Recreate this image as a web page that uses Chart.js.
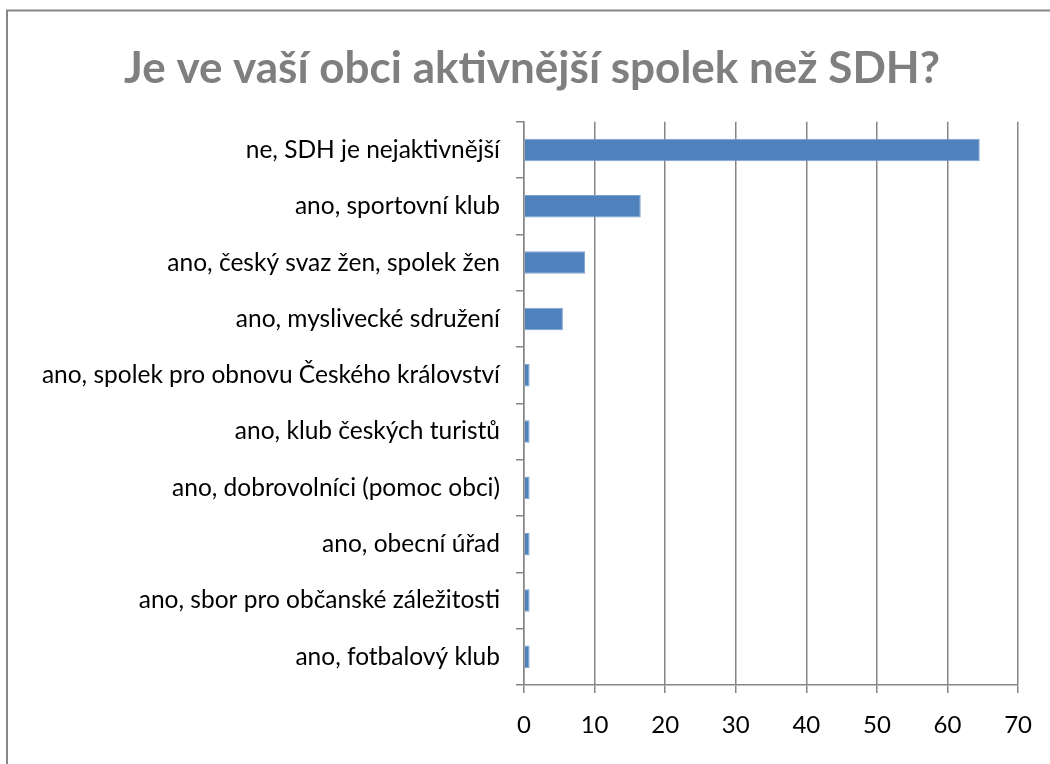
<!DOCTYPE html>
<html>
<head>
<meta charset="utf-8">
<script src="https://cdn.jsdelivr.net/npm/chart.js@4/dist/chart.umd.min.js"></script>
<style>
  html, body { margin: 0; padding: 0; background: #fff; overflow: hidden; }
  #wrap { position: relative; width: 1050px; height: 764px; }
</style>
</head>
<body>
<div id="wrap"><canvas id="c" width="1050" height="764"></canvas></div>
<script>
const titleText = "Je ve vaší obci aktivnější spolek než SDH?";
const categories = [
  "ne, SDH je nejaktivnější",
  "ano, sportovní klub",
  "ano, český svaz žen, spolek žen",
  "ano, myslivecké sdružení",
  "ano, spolek pro obnovu Českého království",
  "ano, klub českých turistů",
  "ano, dobrovolníci (pomoc obci)",
  "ano, obecní úřad",
  "ano, sbor pro občanské záležitosti",
  "ano, fotbalový klub"
];
const values = [64.57, 16.54, 8.66, 5.51, 0.79, 0.79, 0.79, 0.79, 0.79, 0.79];
const xMin = 0, xMax = 70, xStep = 10;

const frame = {
  id: 'frame',
  beforeDraw(chart) {
    const ctx = chart.ctx;
    ctx.save();
    ctx.fillStyle = '#fff';
    ctx.fillRect(0, 0, chart.width, chart.height);
    ctx.strokeStyle = '#868686';
    ctx.lineWidth = 2;
    ctx.strokeRect(7, 10.5, 1200, 900);
    ctx.restore();
  },
  afterLayout(chart) {
    const t = chart.titleBlock;
    if (t) { t.left += 22; t.right += 22; }
  }
};

new Chart(document.getElementById('c'), {
  type: 'bar',
  data: {
    labels: categories,
    datasets: [{
      data: values,
      backgroundColor: '#4F81BD',
      borderColor: '#7DA1CE',
      borderWidth: 1,
      borderSkipped: 'start',
      categoryPercentage: 1.0,
      barPercentage: 0.4
    }]
  },
  options: {
    indexAxis: 'y',
    responsive: false,
    animation: false,
    devicePixelRatio: 1,
    layout: { padding: { left: 0, right: 30, top: 0, bottom: 0 } },
    plugins: {
      legend: { display: false },
      tooltip: { enabled: false },
      title: {
        display: true,
        text: titleText,
        color: '#7F7F7F',
        font: { family: 'Lato', size: 44, weight: 'bold' },
        padding: { top: 42, bottom: 27 }
      }
    },
    scales: {
      x: {
        min: xMin, max: xMax,
        ticks: {
          stepSize: xStep,
          color: '#000',
          font: { family: 'Lato', size: 24 },
          padding: 18
        },
        grid: { color: '#868686', lineWidth: 1.5, tickLength: 8, drawTicks: true },
        border: { color: '#868686', width: 1.5 },
        afterFit(s) { s.height = 79; }
      },
      y: {
        ticks: {
          color: '#000',
          font: { family: 'Lato', size: 24.5 },
          padding: 16
        },
        grid: { color: '#868686', lineWidth: 1.5, tickLength: 8, drawOnChartArea: false, offset: true },
        border: { color: '#868686', width: 1.5 },
        afterFit(s) { s.width = 524; }
      }
    }
  },
  plugins: [frame]
});
</script>
</body>
</html>
